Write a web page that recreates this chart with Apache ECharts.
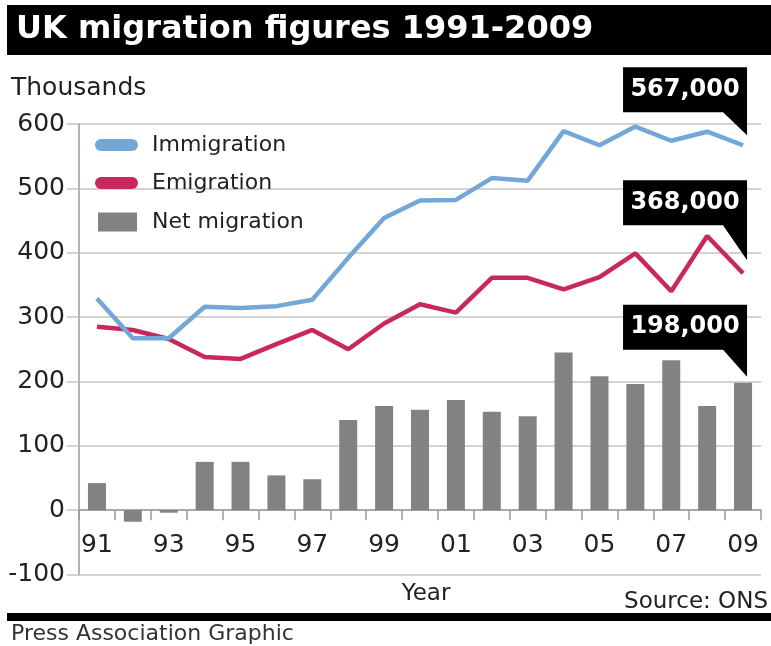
<!DOCTYPE html>
<html>
<head>
<meta charset="utf-8">
<script src="https://cdn.jsdelivr.net/npm/echarts@6/dist/echarts.min.js"></script>
<style>
  html, body { margin: 0; padding: 0; background: #fff; }
  #chart { width: 771px; height: 646px; }
</style>
</head>
<body>
<div id="chart"></div>
<script>
// ---- Data (thousands) ----
const years = ['91','92','93','94','95','96','97','98','99','00','01','02','03','04','05','06','07','08','09'];
const immigration = [329, 267, 267, 316, 314, 317, 327, 392, 454, 481, 482, 516, 512, 589, 567, 596, 574, 588, 567];
const emigration  = [285, 280, 266, 238, 235, 258, 280, 250, 290, 320, 307, 361, 361, 343, 362, 399, 340, 426, 368];
const netMigration = [42, -18, -4, 75, 75, 54, 48, 140, 162, 156, 171, 153, 146, 245, 208, 196, 233, 162, 198];
const yMin = -100, yMax = 600, yStep = 100;

const FONT = 'DejaVu Sans';
const BLUE = '#72a7d6';
const RED = '#c8285e';
const GREY = '#828282';
const GRID = '#c4c4c4';

function fmtThousands(v) {
  return (v * 1000).toLocaleString('en-GB');
}

// callout: black box with a pointer at the lower-right corner
function callout(seriesData, boxW, boxH, tipH, tipDx, tipDy) {
  const last = seriesData.length - 1;
  const h = boxH + tipH;
  return {
    silent: true,
    animation: false,
    data: [{
      coord: [years[last], seriesData[last]],
      symbol: 'path://M0,0H' + boxW + 'V' + h + 'L' + (boxW - 24) + ',' + boxH + 'H0Z',
      symbolSize: [boxW, h],
      symbolOffset: [tipDx - boxW / 2, tipDy - h / 2],
      itemStyle: { color: '#000' },
      label: {
        show: true,
        position: 'inside',
        offset: [0, -tipH / 2],
        formatter: fmtThousands(seriesData[last]),
        color: '#fff',
        fontFamily: FONT,
        fontWeight: 'bold',
        fontSize: 24
      }
    }]
  };
}

const chart = echarts.init(document.getElementById('chart'), null, { renderer: 'canvas' });

const legendBase = {
  orient: 'horizontal',
  padding: 0,
  selectedMode: false,
  textStyle: { fontFamily: FONT, fontSize: 22, color: '#222', padding: [0, 0, 0, 9] }
};

const option = {
  animation: false,
  backgroundColor: '#fff',
  graphic: [
    { type: 'rect', left: 7, top: 5, z: -1, shape: { width: 764, height: 50 }, style: { fill: '#000' } },
    { type: 'rect', left: 7, top: 613, z: -1, shape: { width: 764, height: 8 }, style: { fill: '#000' } }
  ],
  title: [
    { text: 'UK migration figures 1991-2009', left: 16, top: 14, padding: 0, z: 10,
      textStyle: { fontFamily: FONT, fontWeight: 'bold', fontSize: 32, color: '#fff' } },
    { text: 'Thousands', left: 11, top: 76, padding: 0,
      textStyle: { fontFamily: FONT, fontWeight: 'normal', fontSize: 25, color: '#222' } },
    { text: 'Source: ONS', right: 3, top: 591, padding: 0,
      textStyle: { fontFamily: FONT, fontWeight: 'normal', fontSize: 23, color: '#222' } },
    { text: 'Press Association Graphic', left: 11, top: 623, padding: 0,
      textStyle: { fontFamily: FONT, fontWeight: 'normal', fontSize: 22, color: '#333' } }
  ],
  legend: [
    Object.assign({}, legendBase, {
      left: 95, top: 134, itemWidth: 43, itemHeight: 12,
      data: [{ name: 'Immigration', icon: 'path://M6,0H37A6,6 0 0 1 37,12H6A6,6 0 0 1 6,0Z' }]
    }),
    Object.assign({}, legendBase, {
      left: 95, top: 172, itemWidth: 43, itemHeight: 12,
      data: [{ name: 'Emigration', icon: 'path://M6,0H37A6,6 0 0 1 37,12H6A6,6 0 0 1 6,0Z' }]
    }),
    Object.assign({}, legendBase, {
      left: 98, top: 211, itemWidth: 39, itemHeight: 19,
      textStyle: Object.assign({}, legendBase.textStyle, { padding: [0, 0, 0, 10] }),
      data: [{ name: 'Net migration', icon: 'rect' }]
    })
  ],
  grid: { left: 79, right: 10, top: 124, bottom: 71.5, containLabel: false, outerBoundsMode: 'none' },
  xAxis: {
    type: 'category',
    data: years,
    boundaryGap: true,
    name: 'Year',
    nameLocation: 'middle',
    nameGap: 8,
    nameTextStyle: { fontFamily: FONT, fontSize: 23, color: '#222', padding: [0, 0, 0, 12], verticalAlign: 'top' },
    axisLine: { show: true, onZero: true, lineStyle: { color: '#9a9a9a', width: 1.5 } },
    axisTick: { show: true, interval: 0, length: 10, lineStyle: { color: '#9a9a9a', width: 1.5 } },
    axisLabel: { interval: 1, margin: -42, fontFamily: FONT, fontSize: 25, color: '#222' },
    splitLine: { show: false }
  },
  yAxis: {
    type: 'value',
    min: yMin, max: yMax, interval: yStep,
    axisLine: { show: true, lineStyle: { color: '#9a9a9a', width: 1.5 } },
    axisTick: { show: true, length: 12, lineStyle: { color: GRID, width: 1.5 } },
    axisLabel: { margin: 14, fontFamily: FONT, fontSize: 25, color: '#222' },
    splitLine: { show: true, lineStyle: { color: GRID, width: 1.5 } }
  },
  series: [
    {
      name: 'Net migration',
      type: 'bar',
      data: netMigration,
      barWidth: 18,
      itemStyle: { color: GREY },
      markPoint: callout(netMigration, 124, 45, 27, 4, -6)
    },
    {
      name: 'Emigration',
      type: 'line',
      data: emigration,
      symbol: 'none',
      itemStyle: { color: RED },
      lineStyle: { color: RED, width: 4.5 },
      z: 3,
      markPoint: callout(emigration, 124, 45, 35, 4, -13)
    },
    {
      name: 'Immigration',
      type: 'line',
      data: immigration,
      symbol: 'none',
      itemStyle: { color: BLUE },
      lineStyle: { color: BLUE, width: 4.5 },
      z: 4,
      markPoint: callout(immigration, 124, 45, 23, 4, -10)
    }
  ]
};

chart.setOption(option);
</script>
</body>
</html>
